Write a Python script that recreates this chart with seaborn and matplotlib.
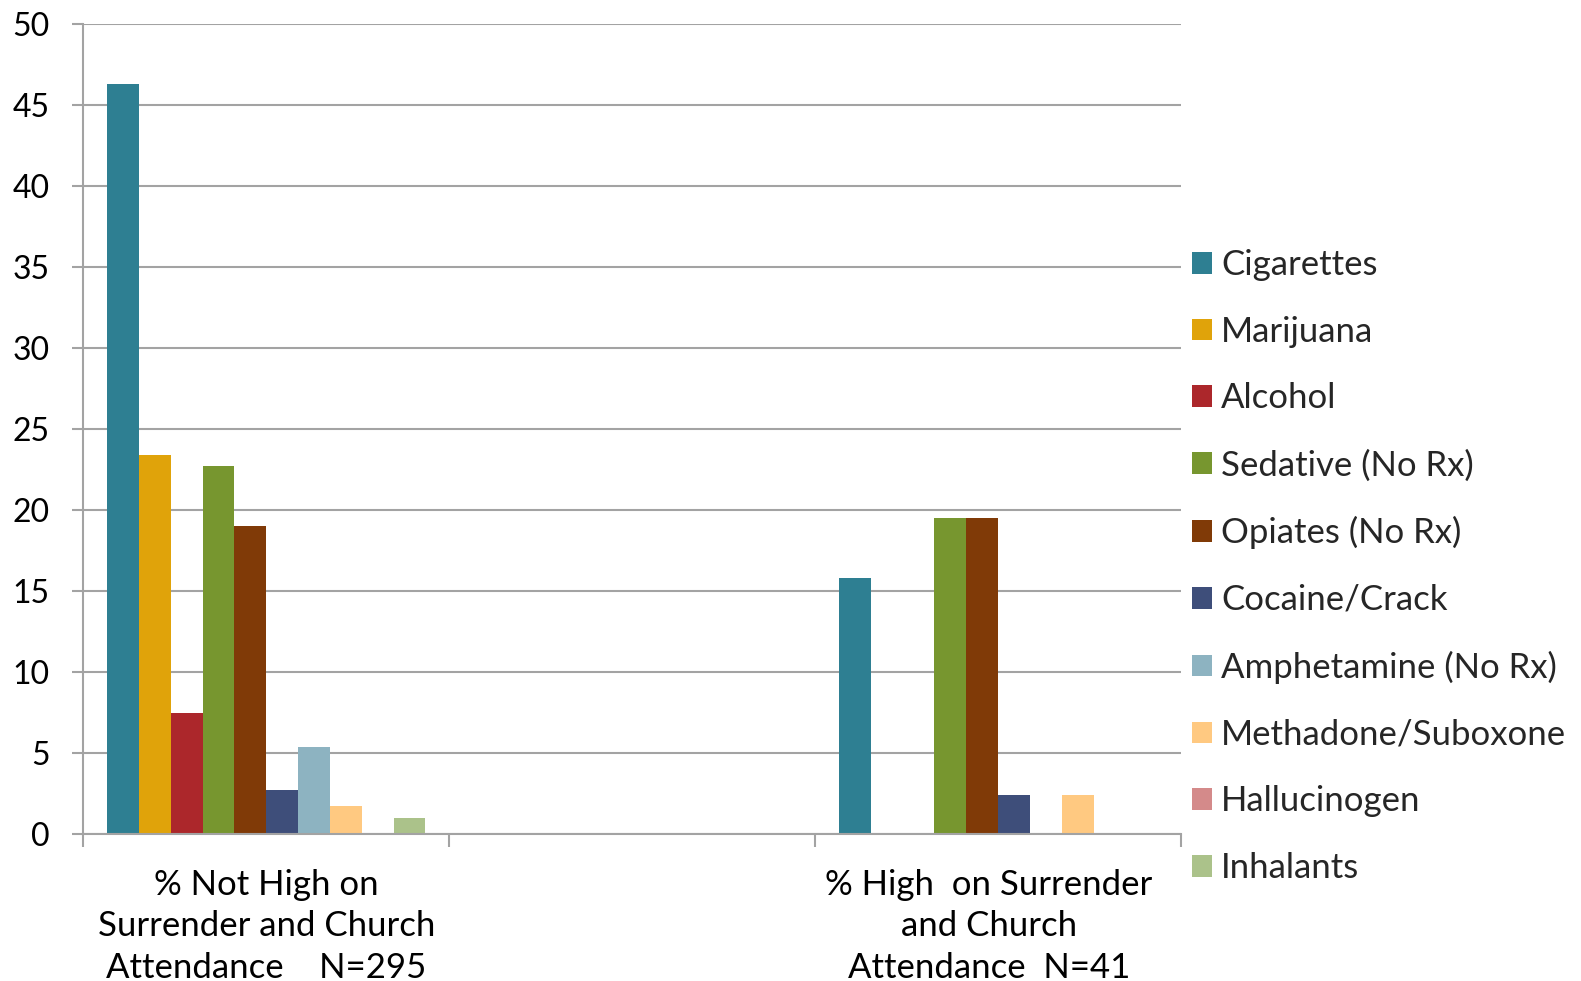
import matplotlib
matplotlib.use("Agg")
import matplotlib.pyplot as plt
import matplotlib.transforms as mtransforms
import seaborn as sns
import pandas as pd

groups = ["% Not High on\nSurrender and Church\nAttendance    N=295",
          " ",
          "% High  on Surrender\nand Church\nAttendance  N=41"]
drugs = ["Cigarettes", "Marijuana", "Alcohol", "Sedative (No Rx)", "Opiates (No Rx)",
         "Cocaine/Crack", "Amphetamine (No Rx)", "Methadone/Suboxone", "Hallucinogen", "Inhalants"]
not_high = [46.3, 23.4, 7.5, 22.7, 19.0, 2.7, 5.4, 1.7, 0.0, 1.0]
high = [15.8, 0.0, 0.0, 19.5, 19.5, 2.4, 0.0, 2.4, 0.0, 0.0]
colors = ["#2E7F92", "#E0A30A", "#AC272B", "#77962F", "#803A07",
          "#3E4E7A", "#8DB3C1", "#FFC981", "#D48A8A", "#ABC28A"]
yticks = [0, 5, 10, 15, 20, 25, 30, 35, 40, 45, 50]

df = pd.DataFrame({
    "group": [groups[0]] * len(drugs) + [groups[2]] * len(drugs),
    "drug": drugs + drugs,
    "value": not_high + high,
})

sns.set_theme(style="white")
plt.rcParams["font.family"] = ["Lato", "DejaVu Sans"]

fig = plt.figure(figsize=(15.81, 9.81), dpi=100)
ax = fig.add_axes([83.3 / 1581, 1 - 834 / 981, (1181 - 83.3) / 1581, (834 - 24) / 981])

sns.barplot(data=df, x="group", y="value", hue="drug", order=groups, hue_order=drugs,
            palette=colors, width=0.87, linewidth=0, saturation=1, ax=ax, errorbar=None)

grid_c = "#A3A3A3"
ax.set_ylim(0, 50)
ax.set_xlim(-0.5, 2.5)
ax.set_yticks(yticks)
ax.set_yticklabels([str(v) for v in yticks], fontsize=23, color="black")
ax.yaxis.grid(True, color=grid_c, linewidth=1.5)
ax.set_axisbelow(True)
ax.tick_params(axis="y", length=8, width=1.5, color=grid_c, pad=16, left=True)
ax.set_xticks([-0.5, 0.5, 1.5, 2.5], minor=True)
ax.tick_params(axis="x", which="minor", length=9, width=1.5, color=grid_c, bottom=True)
ax.tick_params(axis="x", which="major", length=0, pad=25)
ax.set_xticklabels(groups, fontsize=25, color="black", linespacing=1.37)
lbls = ax.get_xticklabels()
lbls[2].set_transform(lbls[2].get_transform() +
                      mtransforms.ScaledTranslation(-9 / 100, 0, fig.dpi_scale_trans))
ax.set_xlabel("")
ax.set_ylabel("")
for s in ["top", "right"]:
    ax.spines[s].set_visible(False)
for s in ["left", "bottom"]:
    ax.spines[s].set_color(grid_c)
    ax.spines[s].set_linewidth(1.5)

handles, labels = ax.get_legend_handles_labels()
ax.legend_.remove()
fig.legend(handles, labels, loc="center left", bbox_to_anchor=(1192 / 1581, 1 - 566.5 / 981),
           bbox_transform=fig.transFigure, frameon=False, fontsize=25, borderpad=0,
           borderaxespad=0, handlelength=0.58, handleheight=0.58, handletextpad=0.26,
           labelspacing=1.0)

fig.savefig("out.png", dpi=100)
